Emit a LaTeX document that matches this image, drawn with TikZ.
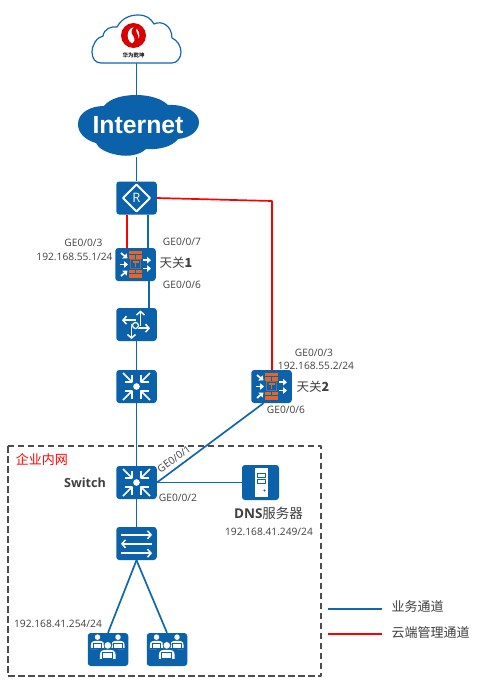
\documentclass[tikz,border=0pt]{standalone}
\usepackage{fontspec}
\setmainfont{Open Sans}
\newfontfamily\cjk{Noto Sans CJK SC}
\newfontfamily\arialbold{Liberation Sans}
\usetikzlibrary{arrows.meta}
\definecolor{hw}{HTML}{0B62AB}
\definecolor{linkblue}{HTML}{0F67B1}
\definecolor{fwo}{HTML}{E0662A}
\definecolor{fwg}{HTML}{7F6A63}
\definecolor{txt}{HTML}{404040}
\tikzset{
  dev/.style={draw=none,fill=hw,rounded corners=3pt,minimum width=40.5pt,minimum height=33pt,inner sep=0pt},
  srv/.style={draw=none,fill=hw,rounded corners=3pt,minimum width=37pt,minimum height=35pt,inner sep=0pt},
  biz/.style={draw=linkblue,line width=1.7pt},
  mgmt/.style={draw=red,line width=1.7pt},
  lbl/.style={text=txt,font=\fontsize{10.2}{12}\selectfont,inner sep=0pt,align=center},
  cjklbl/.style={text=txt,font=\cjk\fontsize{13}{15}\selectfont,inner sep=0pt},
  wa/.style={draw=white,line width=1.7pt,-{Triangle[length=4pt,width=6.5pt]}},
  wb/.style={draw=white,line width=1.5pt,-{Straight Barb[length=3.5pt,width=8pt,line width=1.5pt]}}
}
\newcommand{\coreicon}[1]{%
  \begin{scope}[shift={(#1)}]
    \fill[white] (0,0) circle (3.3pt);
    \foreach \sx in {-1,1} \foreach \sy in {-1,1} {
      \draw[white,line width=1.7pt,line cap=butt] (\sx*13.5,\sy*13.5) -- (\sx*5,\sy*5);
      \draw[white,line width=1.7pt] (\sx*12,\sy*4.8) -- (\sx*4.8,\sy*4.8) -- (\sx*4.8,\sy*12);
    }
  \end{scope}}
\newcommand{\fwicon}[1]{%
  \begin{scope}[shift={(#1)}]
    \fill[fwo] (-6.3,-14) rectangle (6.7,-10.2);
    \fill[fwo] (-6.3,-9.5) rectangle (-0.3,-5.8);
    \fill[fwo] (0.7,-9.5) rectangle (6.7,-5.8);
    \fill[fwo] (-6.3,5.2) rectangle (-0.3,8.8);
    \fill[fwo] (0.7,5.2) rectangle (6.7,8.8);
    \fill[fwo] (-6.3,9.5) rectangle (6.7,13.2);
    \draw[fwg,line width=1pt] (-4.8,-4.7) rectangle (5.2,4.3);
    \draw[fwo,line width=1.2pt] (-2.8,-2.5) -- (3.2,-2.5) (0.2,-2.5) -- (0.2,2.8);
    \draw[wa] (-14.5,-11.5) -- (-8,-6);
    \draw[wa] (-16,0) -- (-7.5,0);
    \draw[wa] (-14.5,11.5) -- (-8,6);
    \draw[wa] (7.5,-4.3) -- (15.5,-4.3);
    \draw[wa] (7.5,4) -- (15.5,4);
  \end{scope}}
\newcommand{\person}[2]{%
  \begin{scope}[shift={(#1)},scale=#2]
    \fill[white] (0,-5.8) circle (2.5);
    \fill[white] (-6,5) -- (-6,1.5) .. controls (-6,-2.4) and (-3,-2.4) .. (0,-2.4) .. controls (3,-2.4) and (6,-2.4) .. (6,1.5) -- (6,5) -- cycle;
    \fill[hw] (-4.3,-0.4) rectangle (4.3,4.4);
    \fill[white] (-3.5,0.2) rectangle (3.5,3.8);
    \fill[hw] (-6.1,4.4) rectangle (6.1,5.1);
  \end{scope}}
\newcommand{\pcicon}[1]{%
  \begin{scope}[shift={(#1)}]
    \person{-10.5,-6}{1.1}
    \person{10,-6}{1.1}
    \fill[hw] (0,-5) circle (4.5pt);
    \fill[hw] (-9.6,-1) rectangle (9.6,12);
    \person{-0.2,3.5}{1.32}
  \end{scope}}
\begin{document}
\begin{tikzpicture}[x=1pt,y=-1pt,line join=round]
\useasboundingbox (0,0) rectangle (491,688);
\fill[white] (0,0) rectangle (491,688);

% nodes
\node[inner sep=0pt,minimum width=89pt,minimum height=48pt] (hwc) at (136.5,39) {};
\node[inner sep=0pt,minimum width=122pt,minimum height=62pt] (inet) at (138,126) {};
\node[dev] (r) at (136.5,198) {};
\node[dev] (gw1) at (135.5,264.5) {};
\node[dev] (rt) at (136.5,324.5) {};
\node[dev] (core) at (136.5,386.5) {};
\node[dev] (gw2) at (271.5,386.5) {};
\node[dev] (sw) at (136.5,482.5) {};
\node[srv] (dns) at (260.5,482.5) {};
\node[dev] (l2) at (136.5,543.5) {};
\node[dev] (pc1) at (108,649.5) {};
\node[dev] (pc2) at (167,649.5) {};
\coordinate (lb1) at (328,609);
\coordinate (lb2) at (382,609);
\coordinate (lr1) at (328,634);
\coordinate (lr2) at (382,634);
\coordinate (rc) at (272,201);

% connectors
\draw[biz] (hwc.south) -- (inet.north -| hwc.south);
\draw[biz] (inet.south -| r.north) -- (r.north);
\draw[mgmt] ([xshift=-9.5pt]r.south) -- ([xshift=-8.5pt]gw1.north);
\draw[biz] ([xshift=11.5pt]r.south) -- ([xshift=12.5pt]gw1.north);
\draw[biz] ([xshift=13.5pt]gw1.south) -- ([xshift=12.5pt]rt.north);
\draw[biz] (rt.south) -- (core.north);
\draw[biz] (core.south) -- (sw.north);
\draw[mgmt] (r.east) -- (rc) -- (gw2.north -| rc);
\draw[biz] ([xshift=-8pt]gw2.south) -- (sw.east);
\draw[biz] (sw.east) -- (dns.west);
\draw[biz] (sw.south) -- (l2.north);
\draw[biz] (l2.south) -- (pc1.north);
\draw[biz] (l2.south) -- (pc2.north);
\draw[biz] (lb1) -- (lb2);
\draw[mgmt] (lr1) -- (lr2);

% top outline cloud
\path[draw=linkblue,line width=1.2pt,fill=white]
  (101,63) .. controls (95,63) and (92,58) .. (92,52)
  .. controls (92,45) and (97,37) .. (103,36)
  .. controls (104,29) and (111,26) .. (117,27)
  .. controls (122,18) and (130,15) .. (138,15)
  .. controls (147,15) and (151,19) .. (154,24)
  .. controls (162,20) and (172,26) .. (172,38)
  .. controls (177,40) and (181,46) .. (181,52)
  .. controls (181,58) and (177,63) .. (172,63) -- cycle;
% logo
\fill[red!85!black] (133.5,35.5) circle (12.5pt);
\fill[white] (133.5,35.5) ellipse (5.8pt and 8pt);
\fill[red!85!black] (139,24) .. controls (131,28) and (130,32) .. (133,35.5)
  .. controls (136,39) and (135,43) .. (128,47)
  .. controls (137,46) and (141,41) .. (138,35.5)
  .. controls (135.5,31) and (135.5,28) .. (139,24) -- cycle;
\node[inner sep=0pt,text=black!85,font=\cjk\bfseries\fontsize{5.5}{6}\selectfont] (hwt) at (133.5,55) {华为乾坤};

% Internet cloud
\fill[hw] (78,124) .. controls (78,113) and (90,106) .. (104,106)
  .. controls (110,98) and (124,95) .. (136,95)
  .. controls (150,95) and (162,99) .. (168,105)
  .. controls (186,104) and (199,113) .. (199,122)
  .. controls (199,131) and (190,138) .. (178,139)
  .. controls (172,147) and (158,150) .. (146,149)
  .. controls (140,155) and (128,157) .. (118,155)
  .. controls (106,153) and (98,148) .. (96,143)
  .. controls (85,140) and (78,133) .. (78,124) -- cycle;
\node[inner sep=0pt,text=white,font=\arialbold\bfseries\fontsize{24.8}{28}\selectfont] (it) at (138,125.5) {Internet};

% router icon
\begin{scope}[shift={(r.center)}]
  \draw[white,line width=1.8pt] (-13.5,0) -- (0,-13.5) -- (13.5,0) -- (0,13.5) -- cycle;
  \node[inner sep=0pt,text=white,font=\fontsize{13}{14}\selectfont] (rl) at (0,0) {R};
\end{scope}

\fwicon{gw1.center}
\fwicon{gw2.center}

% routing icon
\begin{scope}[shift={(rt.center)}]
  \draw[wb] (4,1) -- (4,-14);
  \draw[wb] (-1,-4.3) -- (-14.5,-4.3);
  \draw[wb] (-1,3.7) -- (13.5,3.7);
  \draw[wb] (-5,-1) -- (-5,14.5);
  \fill[hw] (-1,1) circle (4pt);
  \draw[white,line width=1.2pt] (-1,1) circle (3pt);
\end{scope}

\coreicon{core.center}
\coreicon{sw.center}

% L2 switch icon
\begin{scope}[shift={(l2.center)}]
  \draw[wb] (-15.5,-8.7) -- (15.5,-8.7);
  \draw[wb] (15.5,0.3) -- (-15.5,0.3);
  \draw[wb] (-15.5,9.7) -- (15.5,9.7);
\end{scope}

% server icon
\begin{scope}[shift={(dns.center)}]
  \fill[white] (-5.3,-14.5) rectangle (7.3,14.5);
  \draw[hw,line width=.9pt] (-3.2,-9.5) rectangle (5,-4.8);
  \draw[hw,line width=.9pt] (-3.2,-3.5) rectangle (5,0.5);
  \fill[hw] (4,8) circle (1.2pt);
\end{scope}

\pcicon{pc1.center}
\pcicon{pc2.center}

% dashed frame
\draw[draw=black!70,line width=1.1pt,dash pattern=on 6.5pt off 3.5pt] (8,446) rectangle (321,676);

% labels
\node[lbl] (a1) at (83.5,243) {GE0/0/3};
\node[lbl] (a2) at (74.5,256.5) {192.168.55.1/24};
\node[lbl] (a3) at (182,242) {GE0/0/7};
\node[lbl] (a4) at (182,284.5) {GE0/0/6};
\node[inner sep=0pt,text=txt,font=\cjk\fontsize{12.5}{14}\selectfont] (a5) at (176,263) {天关\textbf{1}};
\node[lbl] (b1) at (314,353) {GE0/0/3};
\node[lbl] (b2) at (316,366) {192.168.55.2/24};
\node[inner sep=0pt,text=txt,font=\cjk\fontsize{12.5}{14}\selectfont] (b3) at (313,387) {天关\textbf{2}};
\node[lbl] (b4) at (286,410) {GE0/0/6};
\node[lbl,rotate=36] (c1) at (174,459) {GE0/0/1};
\node[lbl] (c2) at (178,498) {GE0/0/2};
\node[inner sep=0pt,text=txt,font=\fontsize{12.6}{14}\selectfont\bfseries] (c3) at (85,483) {Switch};
\node[inner sep=0pt,text=red,font=\cjk\fontsize{13}{15}\selectfont] (c4) at (42,460) {企业内网};
\node[inner sep=0pt,text=txt,font=\cjk\fontsize{13.5}{15}\selectfont] (c5) at (268.5,513.5) {\fontspec{Open Sans}\bfseries DNS\cjk\mdseries 服务器};
\node[lbl] (c6) at (269,532) {192.168.41.249/24};
\node[lbl] (c7) at (58,624) {192.168.41.254/24};
\node[cjklbl,anchor=west] (l1) at (391.5,607) {业务通道};
\node[cjklbl,anchor=west] (l2t) at (391.5,633) {云端管理通道};
\end{tikzpicture}
\end{document}
